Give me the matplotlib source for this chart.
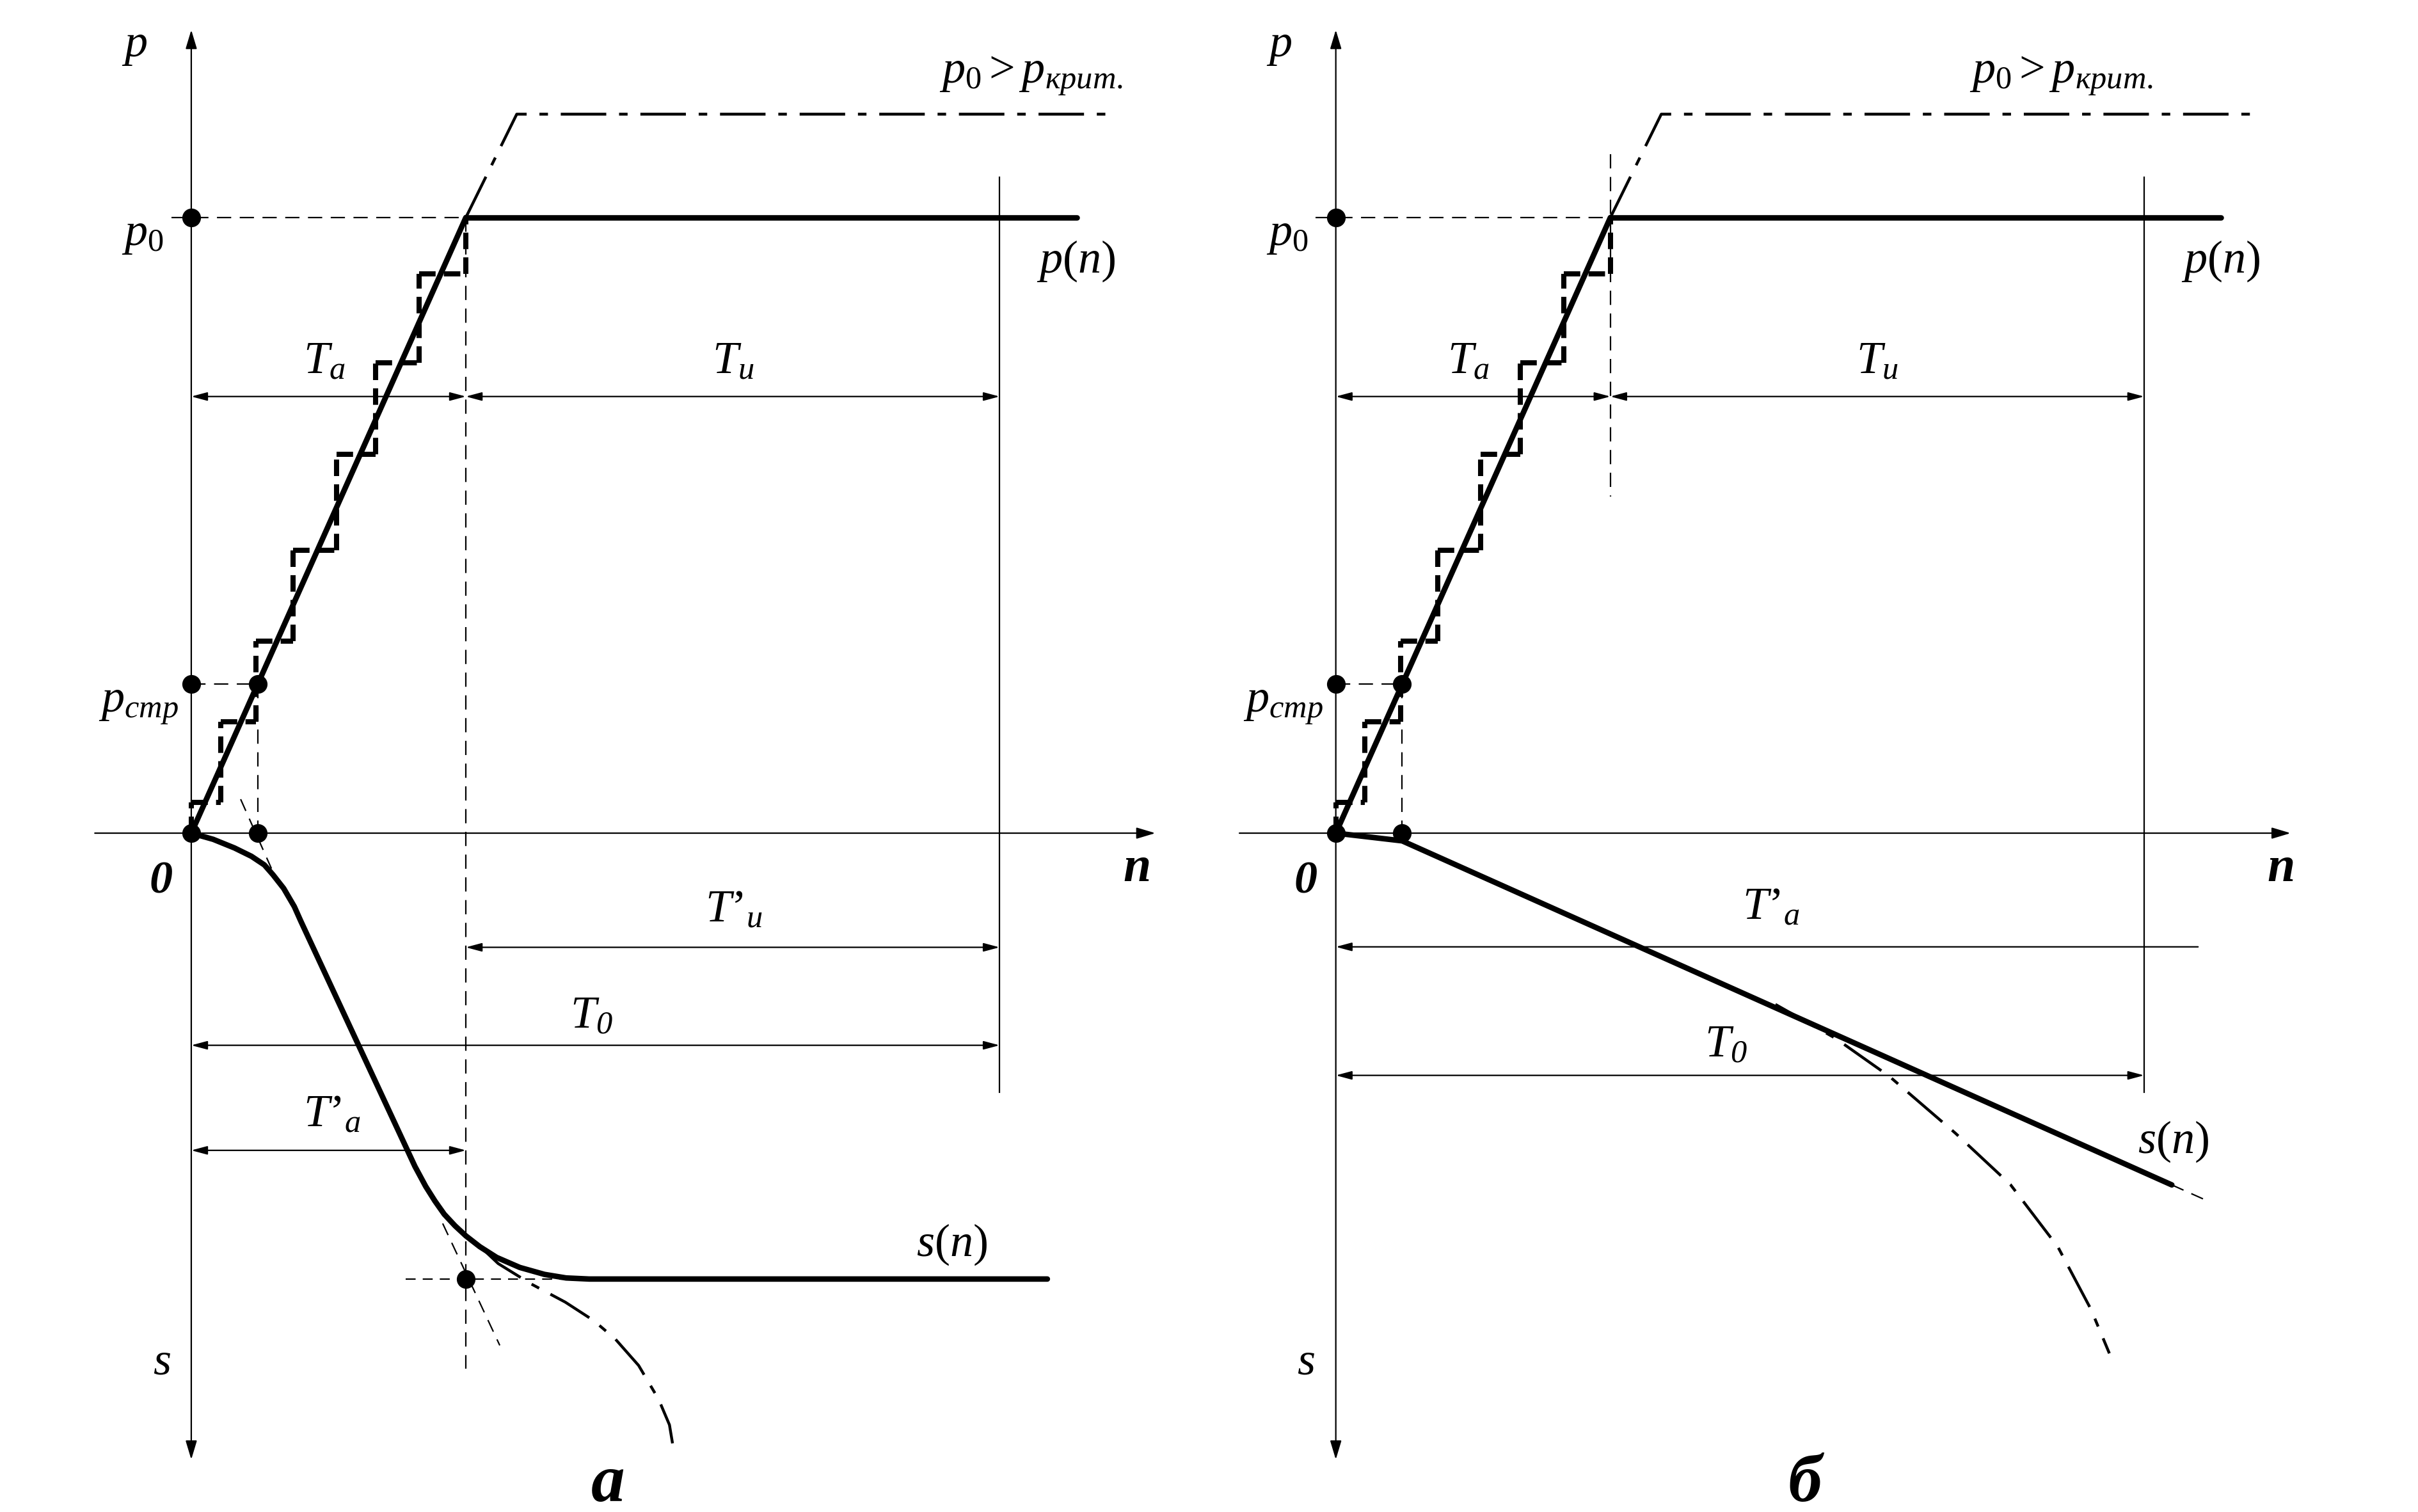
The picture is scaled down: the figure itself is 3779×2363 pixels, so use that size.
import matplotlib.pyplot as plt
from matplotlib.patches import FancyArrowPatch

plt.rcParams['mathtext.fontset'] = 'custom'
plt.rcParams['mathtext.rm'] = 'Liberation Serif'
plt.rcParams['mathtext.it'] = 'Liberation Serif:italic'
plt.rcParams['mathtext.sf'] = 'Liberation Serif:italic'
plt.rcParams['mathtext.bf'] = 'Liberation Serif:bold'
plt.rcParams['font.family'] = ['Liberation Serif', 'DejaVu Serif']

# ---- общие величины (n вправо, p вверх, s вниз), единицы чертежа
T_a = 178
T_0 = 524
p_0 = 399
n_str = 43
p_str = 96.5
n_flat_end = 574
n_axis_end = [625, 619]
p_axis_top = 520.6
s_axis_bottom = -406

# p0 > p_crit: продолжение рампы и полка
crit_n = [178, 211, 597]
crit_p = [399, 466, 466]

# ступеньки
stair_n = [0, 19, 42, 66, 94, 119.6, 147.7, 178]
stair_p = [0, 20, 72, 124.6, 183.3, 245.5, 305, 362.7, 398.4]

# s(n), рисунок а
sa_n = [0, 14.2, 28, 39, 47.4, 53, 59.9, 66.8, 71, 145, 152, 158, 164, 171, 178, 187, 198, 213,
        229, 243, 258, 555]
sa_p = [0, -4, -9.6, -15, -20.6, -27, -35.8, -47.6, -57, -216, -229, -238.5, -247, -254.5, -261,
        -268, -275, -281.5, -286, -288.3, -289, -289]
sa_tail_n = [190, 199, 220, 242.5, 261, 275, 290, 303, 310, 312]
sa_tail_p = [-270.5, -279, -292, -304, -316, -328, -345, -367, -383.5, -395.5]
asym_n = [[32, 52], [163, 200]]
asym_p = [[22, -23], [-253, -332]]
s_level = -289

# s(n), рисунок б
sb_n = [0, 43, 542]
sb_p = [0, -5, -228]
sb_ext_n = [542, 563]
sb_ext_p = [-228, -237.4]
sb_tail_n = [285, 324, 358.7, 401.6, 437.3, 468.2, 489.6, 501.5]
sb_tail_p = [-111, -133, -157.5, -194.4, -227.7, -268.3, -308.7, -337.2]

TH = 3.1
TN = 0.8
DASH = (0, (10, 6))
DASHDOT = (0, (16, 4.5, 3, 4.5))
FS = 26

fig = plt.figure(figsize=(18.9, 11.815), dpi=200)
W = 826 / 1568
ax_a = fig.add_axes([0, 0, W, 1])
ax_b = fig.add_axes([742 / 1568, 0, W, 1])


def arrow(ax, a, b, style, scale=10, lw=TN):
    ax.add_patch(FancyArrowPatch(a, b, arrowstyle=style, mutation_scale=scale, lw=lw,
                                 color='black', shrinkA=0, shrinkB=0, zorder=3))


AX_HEAD = '-|>,head_length=0.9,head_width=0.27'
DIM = ',head_length=0.75,head_width=0.2'


def common(ax, k):
    ax.set_xlim(-124, 702)
    ax.set_ylim(-440, 540)
    ax.axis('off')
    # оси
    arrow(ax, (0, 0), (0, p_axis_top), AX_HEAD)
    arrow(ax, (0, 0), (0, s_axis_bottom), AX_HEAD)
    arrow(ax, (-62.5, 0), (n_axis_end[k], 0), AX_HEAD)
    # вспомогательные штриховые
    ax.plot([-13, T_a], [p_0, p_0], 'k', lw=TN, ls=DASH)
    ax.plot([0, n_str], [p_str, p_str], 'k', lw=TN, ls=DASH)
    ax.plot([n_str, n_str], [p_str, 0], 'k', lw=TN, ls=DASH)
    # T0 граница
    ax.plot([T_0, T_0], [425, -168], 'k', lw=TN)
    # p0 > p_crit
    ax.plot(crit_n, crit_p, 'k', lw=1.6, ls=DASHDOT)
    # ступеньки
    st = dict(color='k', lw=2.9, ls=(0, (3.2, 1.6)), dash_capstyle='butt')
    for i in range(len(stair_n)):
        ax.plot([stair_n[i], stair_n[i]], [stair_p[i], stair_p[i + 1]], **st)
        if i + 1 < len(stair_n):
            ax.plot([stair_n[i], stair_n[i + 1]], [stair_p[i + 1], stair_p[i + 1]], **st)
    # рампа и p(n)
    ax.plot([0, T_a], [0, p_0], 'k', lw=TH, solid_capstyle='round')
    ax.plot([T_a, n_flat_end], [p_0, p_0], 'k', lw=TH, solid_capstyle='round')
    # размеры T_a, T_и
    arrow(ax, (0, 283), (T_a, 283), '<|-|>' + DIM)
    arrow(ax, (T_a, 283), (T_0, 283), '<|-|>' + DIM)
    # точки
    ax.plot([0, 0, 0, n_str, n_str], [p_0, p_str, 0, p_str, 0], 'ko', ms=9.5, zorder=6)
    # подписи
    ax.text(-45, 503.4, r'$p$', fontsize=FS)
    ax.text(-45, 381, r'$p_0$', fontsize=FS)
    ax.text(-60, 78.4, r'$p_{стр}$', fontsize=FS)
    ax.text(-27, -38.6, '0', fontsize=FS, fontweight='bold', style='italic')
    ax.text(604, -31, 'n', fontsize=28, fontweight='bold', style='italic')
    ax.text(-25, -350.5, r'$s$', fontsize=FS)
    ax.text(548, 363.6, r'$p(n)$', fontsize=FS)
    ax.text(72.5, 298, r'$T_{а}$', fontsize=FS)
    ax.text(337.5, 298, r'$T_{и}$', fontsize=FS)


common(ax_a, 0)
common(ax_b, 1)

# ---- рисунок а
ax = ax_a
ax.plot([T_a, T_a], [p_0, -347], 'k', lw=TN, ls=DASH)
ax.plot([139, 250], [s_level, s_level], 'k', lw=TN, ls=(0, (7, 5)))
for xs, ys in zip(asym_n, asym_p):
    ax.plot(xs, ys, 'k', lw=TN, ls=(0, (9, 6)))
ax.plot(sa_tail_n, sa_tail_p, 'k', lw=1.6, ls=DASHDOT)
ax.plot(sa_n, sa_p, 'k', lw=TH, solid_capstyle='round', solid_joinstyle='round')
ax.plot([T_a], [s_level], 'ko', ms=9.5, zorder=6)
arrow(ax, (T_a, -74), (T_0, -74), '<|-|>' + DIM)
arrow(ax, (0, -137.5), (T_0, -137.5), '<|-|>' + DIM)
arrow(ax, (0, -205.6), (T_a, -205.6), '<|-|>' + DIM)
ax.text(485, 486, r'$p_0 > p_{крит.}$', fontsize=FS)
ax.text(470, -274, r'$s(n)$', fontsize=FS)
ax.text(333, -57.5, r'$T’_{и}$', fontsize=FS)
ax.text(245.6, -126.4, r'$T_{\mathsf{0}}$', fontsize=FS)
ax.text(72.6, -190, r'$T’_{а}$', fontsize=FS)
ax.text(270, -433, 'а', fontsize=38, fontweight='bold', style='italic', ha='center', va='baseline')

# ---- рисунок б
ax = ax_b
ax.plot([T_a, T_a], [440, 218], 'k', lw=TN, ls=DASH)
ax.plot(sb_tail_n, sb_tail_p, 'k', lw=1.6, ls=DASHDOT)
ax.plot(sb_ext_n, sb_ext_p, 'k', lw=TN, ls=(0, (9, 6)))
ax.plot(sb_n, sb_p, 'k', lw=TH, solid_capstyle='round', solid_joinstyle='round')
arrow(ax, (0, -73.7), (559, -73.7), '<|-' + DIM)
arrow(ax, (0, -157), (T_0, -157), '<|-|>' + DIM)
ax.text(411, 486, r'$p_0 > p_{крит.}$', fontsize=FS)
ax.text(519.7, -207, r'$s(n)$', fontsize=FS)
ax.text(263.7, -56, r'$T’_{а}$', fontsize=FS)
ax.text(239, -145, r'$T_{\mathsf{0}}$', fontsize=FS)
ax.text(304, -433, 'б', fontsize=38, fontweight='bold', style='italic', ha='center', va='baseline')

fig.savefig('out.png', dpi=200, facecolor='white')
